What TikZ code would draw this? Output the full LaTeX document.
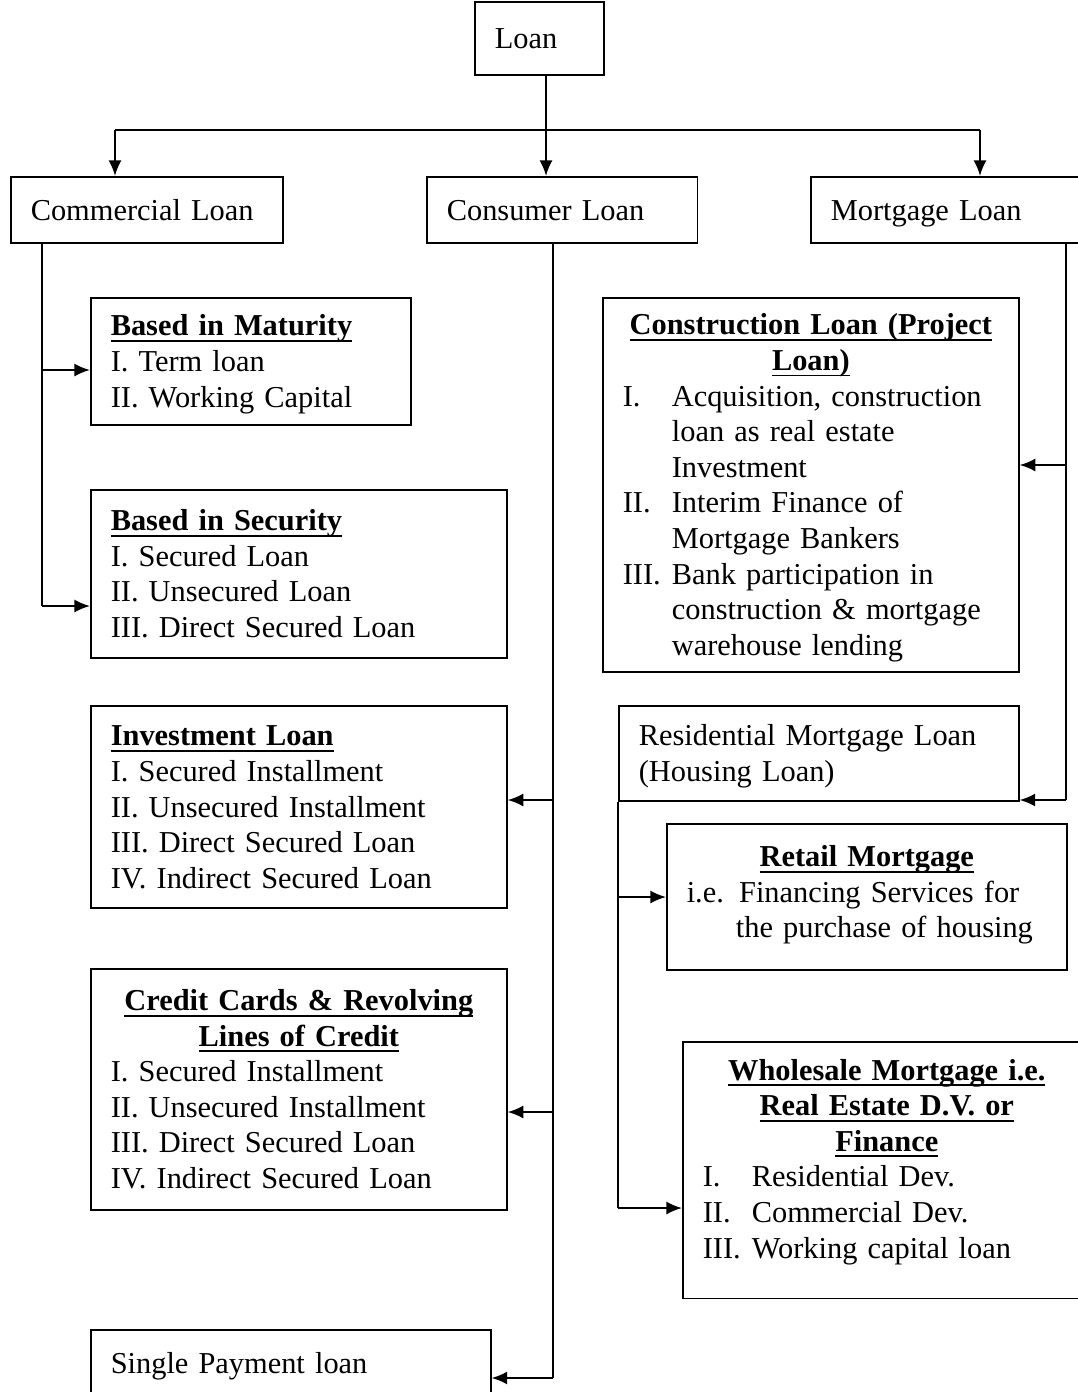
\documentclass[tikz,border=0pt]{standalone}
\usepackage{fontspec}
\setmainfont{Liberation Serif}
\usetikzlibrary{arrows.meta}
\setlength{\parindent}{0pt}
\newsavebox{\ttlbox}
\newcommand{\ttl}[1]{\sbox{\ttlbox}{\textbf{#1}}\rlap{\rule[-2.3pt]{\wd\ttlbox}{0.75pt}}\usebox{\ttlbox}}
\newcommand{\ctr}[1]{\makebox[\hsize]{#1}}
\newcommand{\itm}[1]{\makebox[18.9pt][l]{#1}}
\newcommand{\hng}{\hspace*{18.9pt}}
\tikzset{
  loanbox/.style={draw, line width=0.6pt, anchor=north west, align=left,
    inner xsep=7.7pt, inner ysep=0pt, font=\fontsize{11.7}{13.7}\selectfont,
    execute at begin node=\rule{0pt}{12pt}, execute at end node=\strut},
  link/.style={line width=0.75pt},
  arrowlink/.style={link, -{Latex[length=6pt,width=5pt]}}
}
\begin{document}
\begin{tikzpicture}[x=0.385pt,y=-0.385pt]
    \useasboundingbox (0,0) rectangle (1078,1392);
    % top level
    \node[loanbox, text width=34.3pt, minimum height=28.1pt] (loan) at (474,1) {Loan};
    \node[loanbox, text width=89.3pt, minimum height=25.4pt] (comm) at (10,176) {Commercial Loan};
    \node[loanbox, text width=88.9pt, minimum height=25.4pt] (cons) at (426,176) {Consumer Loan};
    \node[loanbox, text width=92.4pt, minimum height=25.4pt] (mort) at (810,176) {Mortgage Loan};
    % commercial side
    \node[loanbox, text width=107.8pt, minimum height=48.9pt] (mat) at (90,297)
      {\ttl{Based in Maturity}\\ I. Term loan\\ II. Working Capital};
    \node[loanbox, text width=144.8pt, minimum height=64.7pt] (sec) at (90,489)
      {\ttl{Based in Security}\\ I. Secured Loan\\ II. Unsecured Loan\\ III. Direct Secured Loan};
    % consumer side
    \node[loanbox, text width=144.8pt, minimum height=77.8pt] (inv) at (90,705)
      {\ttl{Investment Loan}\\ I. Secured Installment\\ II. Unsecured Installment\\
       III. Direct Secured Loan\\ IV. Indirect Secured Loan};
    \node[loanbox, text width=144.8pt, minimum height=92.8pt] (cred) at (90,968)
      {\ctr{\ttl{Credit Cards \& Revolving}}\\ \ctr{\ttl{Lines of Credit}}\\
       I. Secured Installment\\ II. Unsecured Installment\\
       III. Direct Secured Loan\\ IV. Indirect Secured Loan};
    \node[loanbox, text width=138.6pt, minimum height=25.4pt] (single) at (90,1329) {Single Payment loan};
    % mortgage side
    \node[loanbox, text width=144.8pt, minimum height=144pt] (constr) at (602,297)
      {\ctr{\ttl{Construction Loan (Project}}\\ \ctr{\ttl{Loan)}}\\
       \itm{I.}Acquisition, construction\\ \hng loan as real estate\\ \hng Investment\\
       \itm{II.}Interim Finance of\\ \hng Mortgage Bankers\\
       \itm{III.}Bank participation in\\ \hng construction \& mortgage\\ \hng warehouse lending};
    \node[loanbox, text width=138.6pt, minimum height=36.6pt] (res) at (618,705)
      {Residential Mortgage Loan\\ (Housing Loan)};
    \node[loanbox, text width=138.6pt, minimum height=56.2pt] (retail) at (666,823)
      {\ctr{\ttl{Retail Mortgage}}\\ i.e. Financing Services for\\ \hng the purchase of housing\\[-10pt] \mbox{}};
    \node[loanbox, text width=141.7pt, minimum height=98.9pt] (whole) at (682,1041)
      {\ctr{\ttl{Wholesale Mortgage i.e.}}\\ \ctr{\ttl{Real Estate D.V. or}}\\ \ctr{\ttl{Finance}}\\
       \itm{I.}Residential Dev.\\ \itm{II.}Commercial Dev.\\ \itm{III.}Working capital loan\\[-5pt] \mbox{}};
    % top bus
    \coordinate (bus) at (546,130);
    \coordinate (busL) at (115,130);
    \coordinate (busR) at (980,130);
    \draw[link] (loan.south -| bus) -- (bus); % loan down to bus
    \draw[link] (busL) -- (busR); % horizontal bus
    \draw[arrowlink] (bus) -- (bus |- cons.north);
    \draw[arrowlink] (busL) -- (busL |- comm.north);
    \draw[arrowlink] (busR) -- (busR |- mort.north);
    % commercial trunk
    \coordinate (cA) at (42,370);
    \coordinate (cB) at (42,606);
    \draw[link] (cB |- comm.south) -- (cB);
    \draw[arrowlink] (cA) -- (cA -| mat.west);
    \draw[arrowlink] (cB) -- (cB -| sec.west);
    % consumer trunk
    \coordinate (kA) at (553,800);
    \coordinate (kB) at (553,1112);
    \coordinate (kC) at (553,1378);
    \draw[link] (kC |- cons.south) -- (kC);
    \draw[arrowlink] (kA) -- (kA -| inv.east);
    \draw[arrowlink] (kB) -- (kB -| cred.east);
    \draw[arrowlink] (kC) -- (kC -| single.east);
    % mortgage trunk
    \coordinate (mA) at (1066,465);
    \coordinate (mB) at (1066,800);
    \draw[link] (mB |- mort.south) -- (mB);
    \draw[arrowlink] (mA) -- (mA -| constr.east);
    \draw[arrowlink] (mB) -- (mB -| res.east);
    % residential trunk
    \coordinate (rA) at (618,897);
    \coordinate (rB) at (618,1208);
    \draw[link] (res.south west) -- (rB);
    \draw[arrowlink] (rA) -- (rA -| retail.west);
    \draw[arrowlink] (rB) -- (rB -| whole.west);
\end{tikzpicture}
\end{document}
